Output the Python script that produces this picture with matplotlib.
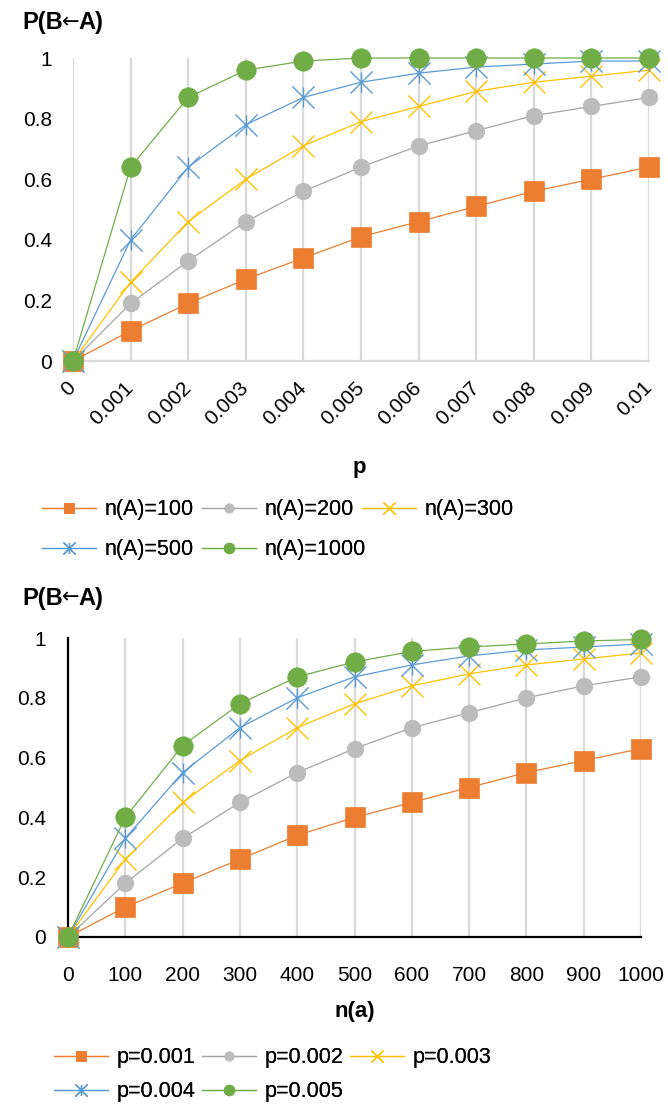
import matplotlib
matplotlib.use("Agg")
import matplotlib.pyplot as plt
from matplotlib.path import Path

plt.rcParams['font.family'] = ['Liberation Sans', 'DejaVu Sans']

# ---------------- data ----------------
p_labels = ['0', '0.001', '0.002', '0.003', '0.004', '0.005', '0.006',
            '0.007', '0.008', '0.009', '0.01']
n_labels = ['0', '100', '200', '300', '400', '500', '600', '700', '800',
            '900', '1000']

top_series_names = ['n(A)=100', 'n(A)=200', 'n(A)=300', 'n(A)=500', 'n(A)=1000']
top_n100 = [0, 0.10, 0.19, 0.27, 0.34, 0.41, 0.46, 0.51, 0.56, 0.60, 0.64]
top_n200 = [0, 0.19, 0.33, 0.46, 0.56, 0.64, 0.71, 0.76, 0.81, 0.84, 0.87]
top_n300 = [0, 0.26, 0.46, 0.60, 0.71, 0.79, 0.84, 0.89, 0.92, 0.94, 0.96]
top_n500 = [0, 0.40, 0.64, 0.78, 0.87, 0.92, 0.95, 0.97, 0.98, 0.99, 0.99]
top_n1000 = [0, 0.64, 0.87, 0.96, 0.99, 1.0, 1.0, 1.0, 1.0, 1.0, 1.0]

bot_series_names = ['p=0.001', 'p=0.002', 'p=0.003', 'p=0.004', 'p=0.005']
bot_p001 = [0, 0.10, 0.18, 0.26, 0.34, 0.40, 0.45, 0.50, 0.55, 0.59, 0.63]
bot_p002 = [0, 0.18, 0.33, 0.45, 0.55, 0.63, 0.70, 0.75, 0.80, 0.84, 0.87]
bot_p003 = [0, 0.26, 0.45, 0.59, 0.70, 0.78, 0.84, 0.88, 0.91, 0.93, 0.95]
bot_p004 = [0, 0.33, 0.55, 0.70, 0.80, 0.87, 0.91, 0.94, 0.96, 0.97, 0.98]
bot_p005 = [0, 0.40, 0.64, 0.78, 0.87, 0.92, 0.955, 0.97, 0.98, 0.99, 0.995]

y_ticks = [0, 0.2, 0.4, 0.6, 0.8, 1.0]
y_tick_labels = ['0', '0.2', '0.4', '0.6', '0.8', '1']

# ---------------- styles ----------------
star = Path([(-1, -1), (1, 1), (-1, 1), (1, -1), (0, -0.9), (0, 0.9)],
            [Path.MOVETO, Path.LINETO, Path.MOVETO, Path.LINETO,
             Path.MOVETO, Path.LINETO])

styles = [
    dict(color='#ED7D31', marker='s', ms=14, mfc='#ED7D31', mec='#ED7D31', mew=0.5),
    dict(color='#A5A5A5', marker='o', ms=12, mfc='#BCBCBC', mec='#BCBCBC', mew=0.5),
    dict(color='#FFC000', marker='x', ms=16, mfc='none', mec='#FFC000', mew=1.0),
    dict(color='#5B9BD5', marker=star, ms=16, mfc='none', mec='#5B9BD5', mew=1.0),
    dict(color='#70AD47', marker='o', ms=14, mfc='#70AD47', mec='#70AD47', mew=0.5),
]

W, H = 668, 1104
fig = plt.figure(figsize=(W / 100, H / 100), dpi=100)

GRID = '#D9D9D9'
TICKFS = 15


def draw(ax, labels, series, names, black_axes):
    xs = list(range(len(labels)))
    handles = []
    for vals, st, nm in zip(series, styles, names):
        ln, = ax.plot(xs, vals, lw=0.9, color=st['color'], marker=st['marker'],
                      ms=st['ms'], mfc=st['mfc'], mec=st['mec'], mew=st['mew'],
                      clip_on=False, label=nm, zorder=3)
        handles.append(ln)
    ax.set_xlim(0, len(labels) - 1)
    ax.set_ylim(0, 1)
    ax.set_xticks(xs)
    ax.set_yticks(y_ticks)
    ax.set_yticklabels(y_tick_labels, fontsize=TICKFS)
    for s in ['top', 'right']:
        ax.spines[s].set_visible(False)
    if black_axes:
        ax.spines['left'].set_color('black')
        ax.spines['left'].set_linewidth(1.6)
        ax.spines['bottom'].set_color('black')
        ax.spines['bottom'].set_linewidth(1.6)
        for x in xs[1:]:
            ax.axvline(x, color=GRID, lw=1.6, zorder=1)
    else:
        ax.spines['left'].set_visible(False)
        ax.spines['bottom'].set_color(GRID)
        ax.spines['bottom'].set_linewidth(1.6)
        for x in xs:
            ax.axvline(x, color=GRID, lw=1.6, zorder=1)
    ax.tick_params(length=0)
    return handles


# ---------------- top chart ----------------
ax1 = fig.add_axes([73 / W, 1 - 361 / H, 576 / W, 303 / H])
h1 = draw(ax1, p_labels, [top_n100, top_n200, top_n300, top_n500, top_n1000],
          top_series_names, False)
ax1.set_xticklabels(p_labels, fontsize=TICKFS, rotation=45, ha='right',
                    va='center', rotation_mode='anchor')
ax1.tick_params(axis='x', pad=17)
ax1.tick_params(axis='y', pad=15)

fig.text(359 / W, 1 - 468 / H, 'p', fontsize=16, fontweight='bold',
         ha='center', va='center')

# ---------------- bottom chart ----------------
ax2 = fig.add_axes([68 / W, 1 - 937 / H, 573 / W, 299 / H])
h2 = draw(ax2, n_labels, [bot_p001, bot_p002, bot_p003, bot_p004, bot_p005],
          bot_series_names, True)
ax2.set_xticklabels(n_labels, fontsize=TICKFS)
ax2.tick_params(axis='x', pad=21)
ax2.tick_params(axis='y', pad=16)

fig.text(355 / W, 1 - 1012 / H, 'n(a)', fontsize=16, fontweight='bold',
         ha='center', va='center')


def make_title(x, y):
    t1 = fig.text(x / W, 1 - y / H, 'P(B', fontsize=17, fontweight='bold',
                  ha='left', va='center')
    arr = fig.add_artist(plt.Annotation(
        '\u2190', xy=(1, 0.5), xycoords=t1, xytext=(-0.5, 0.5),
        textcoords='offset points', fontsize=15, family='DejaVu Sans',
        ha='left', va='center', annotation_clip=False))
    fig.add_artist(plt.Annotation(
        'A)', xy=(1, 0.5), xycoords=arr, xytext=(-0.5, -0.5),
        textcoords='offset points', fontsize=17, fontweight='bold',
        ha='left', va='center', annotation_clip=False))


make_title(22, 23)
make_title(22, 598)


# ---------------- legends ----------------
def entry(handle, x, y, hl_px):
    leg = fig.legend([handle], [handle.get_label()], loc='center left',
                     bbox_to_anchor=(x / W, 1 - y / H), frameon=False,
                     borderpad=0, borderaxespad=0,
                     handlelength=hl_px / 100 * 72 / 15.5,
                     handletextpad=0.42, fontsize=15.5, markerscale=0.55,
                     numpoints=1)
    fig.add_artist(leg)


top_pos = [(42, 510), (202, 510), (362, 510), (42, 550), (202, 550)]
for h, (x, y) in zip(h1, top_pos):
    entry(h, x, y, 54)

bot_pos = [(54, 1058), (202, 1058), (350, 1058), (54, 1092), (202, 1092)]
for h, (x, y) in zip(h2, bot_pos):
    entry(h, x, y, 54)

fig.savefig('out.png', dpi=100)
